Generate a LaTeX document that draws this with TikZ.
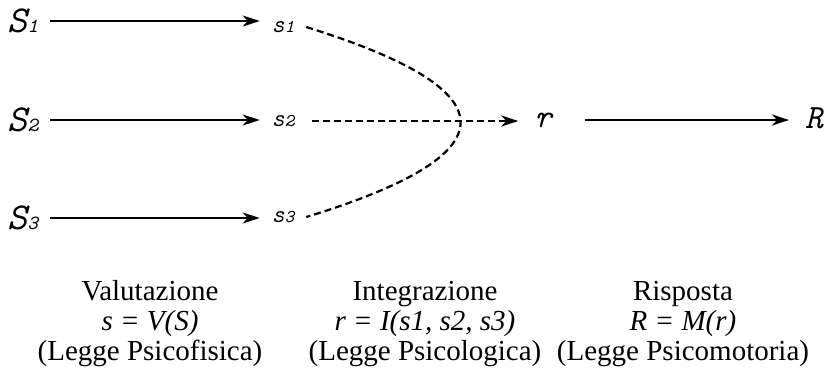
\documentclass[tikz,border=0pt]{standalone}
\usepackage{fontspec}
\setmainfont{Liberation Serif}
\usetikzlibrary{arrows.meta}

% symbol with a small index on the baseline
\newcommand{\symidx}[4]{{\ttfamily\itshape\fontsize{#3}{#3}\selectfont #1\fontsize{#4}{#4}\selectfont #2}}

\begin{document}
\begin{tikzpicture}[x=1pt, y=-1pt, >={Stealth[length=17pt,width=11pt,inset=5pt]},
    lab/.style={inner sep=0pt, outer xsep=12pt, outer ysep=0pt},
    flow/.style={->, line width=2.3pt},
    link/.style={line width=2.2pt, dash pattern=on 7pt off 4pt},
    law/.style={inner sep=0pt, anchor=base, font=\fontsize{29}{31}\selectfont}]

    \useasboundingbox (0,0) rectangle (824,376);

    % Stimoli fisici
    \node[lab] (S1) at (23,21)  {\symidx{S}{1}{38}{20}};
    \node[lab] (S2) at (23,120) {\symidx{S}{2}{38}{20}};
    \node[lab] (S3) at (23,218) {\symidx{S}{3}{38}{20}};

    % Valori soggettivi
    \node[lab] (s1) at (283,27)  {\symidx{s}{1}{25}{18}};
    \node[lab] (s2) at (283,121) {\symidx{s}{2}{25}{18}};
    \node[lab] (s3) at (283,217) {\symidx{s}{3}{25}{18}};

    % Risposta implicita ed esplicita
    \node[lab, outer xsep=16pt] (r) at (543,120) {\symidx{r}{}{33}{17}};
    \node[lab, outer xsep=16pt] (R) at (814,118) {\symidx{R}{}{34}{17}};

    % Valutazione
    \draw[flow] (S1) -- (S1 -| s1.west);
    \draw[flow] (S2) -- (S2 -| s2.west);
    \draw[flow] (S3) -- (S3 -| s3.west);

    % Integrazione
    \draw[link] (s1.east) .. controls (512,91) and (512,154) .. (s3.east);
    \draw[link, ->, shorten <=6pt] (s2.east) -- (s2.east -| r.west);

    % Risposta
    \draw[flow, shorten <=17pt] (r) -- (r -| R.west);

    % Leggi
    \node[law] (val) at (150,300) {Valutazione};
    \node[law] (valf) at (150,330) {\itshape s = V(S)};
    \node[law] (vall) at (150,360) {(Legge Psicofisica)};

    \node[law] (int) at (425,300) {Integrazione};
    \node[law] (intf) at (425,330) {\itshape r = I(s1, s2, s3)};
    \node[law] (intl) at (425,360) {(Legge Psicologica)};

    \node[law] (ris) at (683,300) {Risposta};
    \node[law] (risf) at (683,330) {\itshape R = M(r)};
    \node[law] (risl) at (683,360) {(Legge Psicomotoria)};
\end{tikzpicture}
\end{document}
